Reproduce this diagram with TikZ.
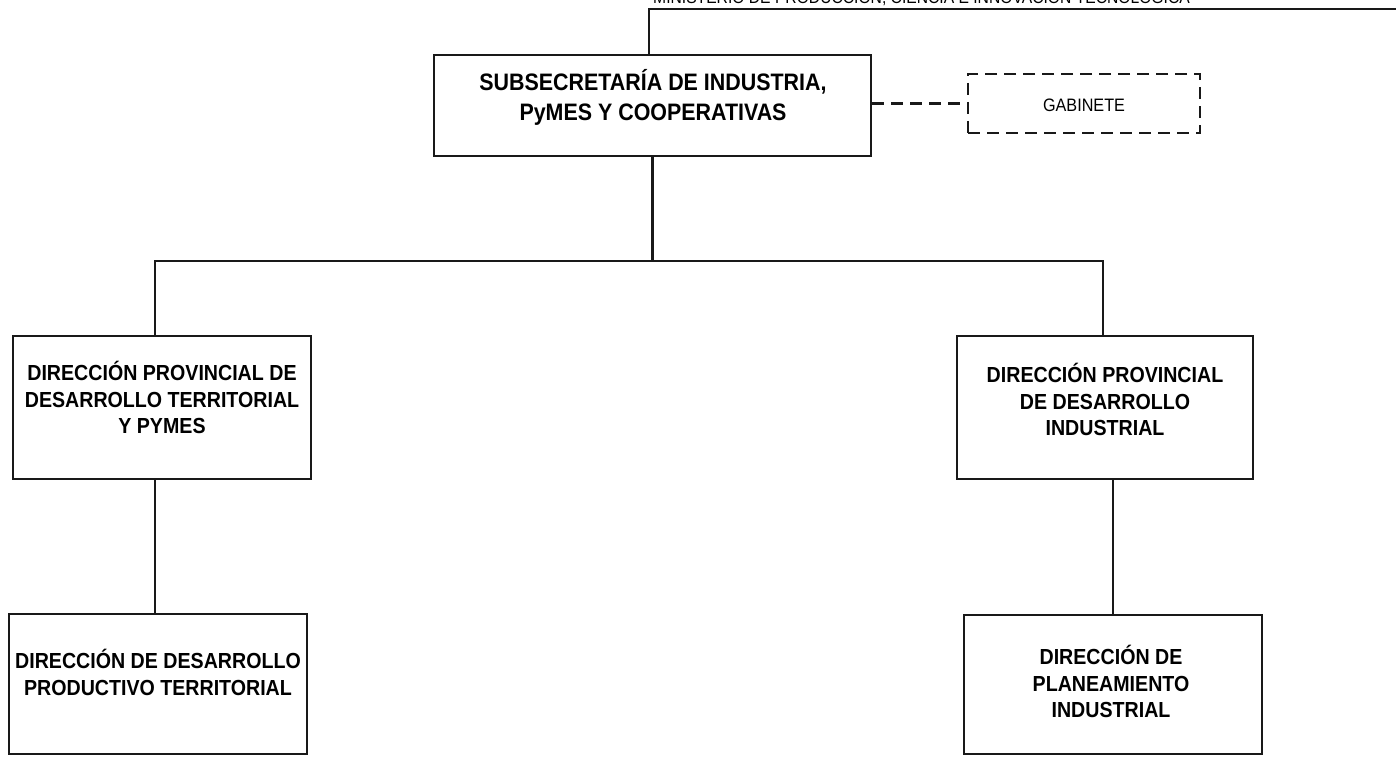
\documentclass[tikz,border=0pt]{standalone}
\usepackage{fontspec}
\setmainfont{Liberation Sans}
\newfontfamily\condfont{Liberation Sans}[FakeStretch=0.9]
\begin{document}
\begin{tikzpicture}[x=1pt,y=1pt,
  box/.style={draw=black!90, line width=2.8pt, fill=white, inner sep=0pt},
  dbox/.style={draw=black!90, line width=2.8pt, dash pattern=on 12pt off 7pt, inner sep=0pt},
  conn/.style={draw=black!90, line width=2.8pt},
  dconn/.style={draw=black!90, line width=2.8pt, dash pattern=on 12pt off 7pt},
  lbl/.style={align=center, inner sep=0pt, font=\condfont\fontsize{21.8}{26.5}\selectfont\bfseries},
]
\useasboundingbox (0,0) rectangle (1396,756);
% boxes
\node[box, minimum width=437pt, minimum height=101pt] (sub) at (652.5,650.5) {};
\node[dbox, minimum width=232pt, minimum height=59pt] (gab) at (1084,652.5) {};
\node[box, minimum width=298pt, minimum height=143pt] (l1) at (162,348.5) {};
\node[box, minimum width=296pt, minimum height=143pt] (r1) at (1105,348.5) {};
\node[box, minimum width=298pt, minimum height=140pt] (l2) at (158,72) {};
\node[box, minimum width=298pt, minimum height=139pt] (r2) at (1113,71.5) {};
% labels
\node[lbl, font=\condfont\fontsize{23.8}{30}\selectfont\bfseries] (subt) at (653,659) {SUBSECRETARÍA DE INDUSTRIA,\\PyMES Y COOPERATIVAS};
\node[align=center, inner sep=0pt, font=\condfont\fontsize{18}{20}\selectfont] (gabt) at (1084,651) {GABINETE};
\node[lbl] (l1t) at (162,358.5) {DIRECCIÓN PROVINCIAL DE\\DESARROLLO TERRITORIAL\\Y PYMES};
\node[lbl] (r1t) at (1105,356.5) {DIRECCIÓN PROVINCIAL\\DE DESARROLLO\\INDUSTRIAL};
\node[lbl] (l2t) at (158,83.5) {DIRECCIÓN DE DESARROLLO\\PRODUCTIVO TERRITORIAL};
\node[lbl] (r2t) at (1111,74.5) {DIRECCIÓN DE\\PLANEAMIENTO\\INDUSTRIAL};
% top ministry line and text
\node[anchor=base west, inner sep=0pt, font=\condfont\fontsize{17.4}{18}\selectfont] (min) at (653,752.5) {MINISTERIO DE PRODUCCIÓN, CIENCIA E INNOVACIÓN TECNOLÓGICA};
\coordinate (mtc) at (649,747);
\coordinate (mte) at (1396,747);
\draw[conn] (sub.north -| mtc) -- (mtc) -- (mte);
% dashed link
\draw[dconn] (gab.west -| sub.east) -- (gab.west);
% tree connectors
\coordinate (jl) at (155,495);
\coordinate (jr) at (1103,495);
\draw[conn] (sub.south) -- (sub.south |- jl);
\draw[conn] (jl |- l1.north) -- (jl) -- (jr) -- (jr |- r1.north);
\draw[conn] (l1.south -| jl) -- (l2.north -| jl);
\draw[conn] (r1.south -| r2.north) -- (r2.north);
\end{tikzpicture}
\end{document}
